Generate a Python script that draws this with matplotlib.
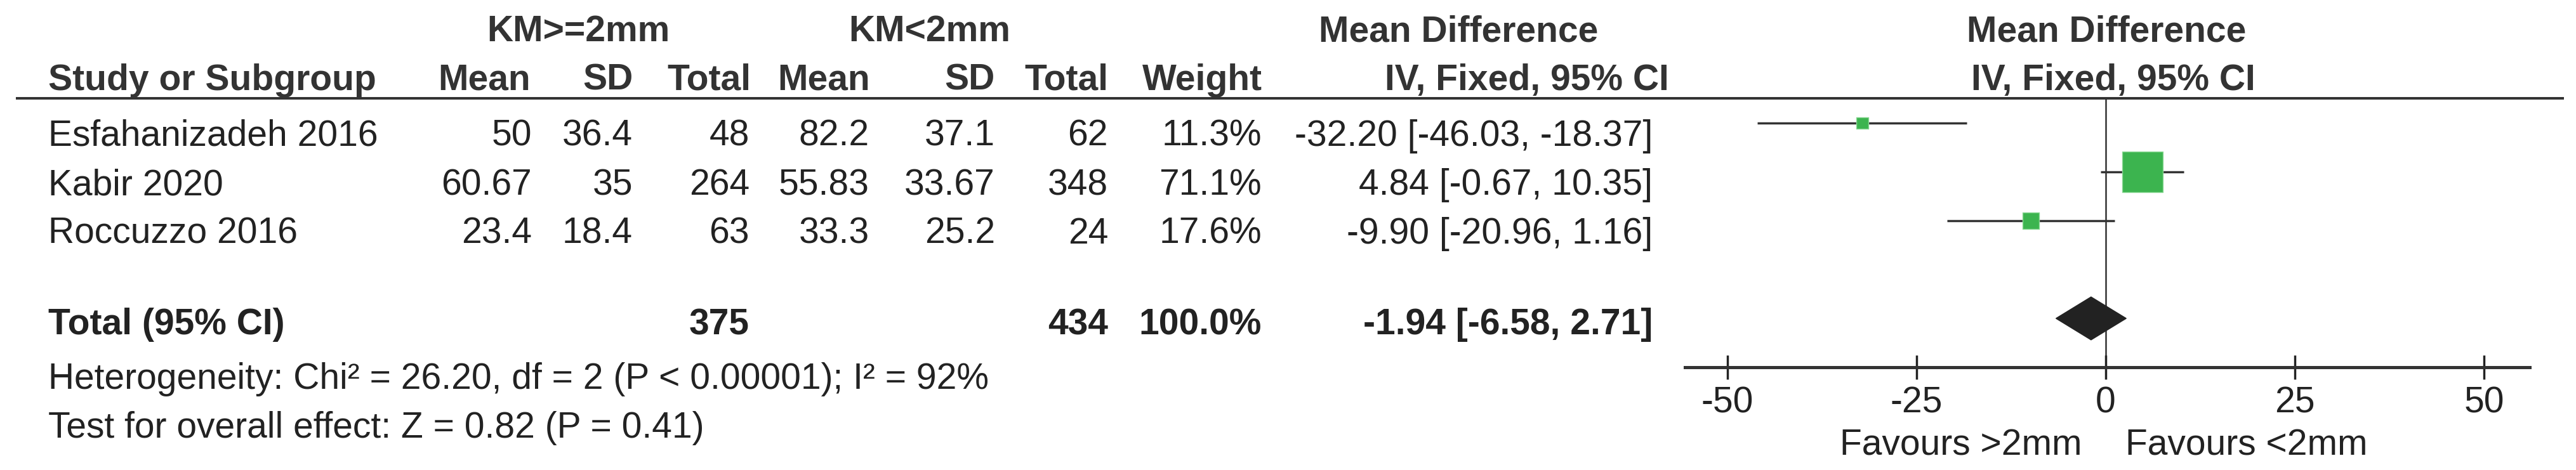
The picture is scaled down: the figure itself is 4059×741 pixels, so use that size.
import matplotlib
matplotlib.use('Agg')
import matplotlib.pyplot as plt

plt.rcParams['font.family'] = ['Liberation Sans', 'DejaVu Sans']
plt.rcParams['axes.unicode_minus'] = False

# data
studies = ['Esfahanizadeh 2016', 'Kabir 2020', 'Roccuzzo 2016']
mean_ge2 = [50, 60.67, 23.4]
sd_ge2 = [36.4, 35, 18.4]
n_ge2 = [48, 264, 63]
mean_lt2 = [82.2, 55.83, 33.3]
sd_lt2 = [37.1, 33.67, 25.2]
n_lt2 = [62, 348, 24]
weights = [11.3, 71.1, 17.6]
md = [-32.20, 4.84, -9.90]
ci_lo = [-46.03, -0.67, -20.96]
ci_hi = [-18.37, 10.35, 1.16]

total_n_ge2 = 375
total_n_lt2 = 434
total_md = -1.94
total_lo = -6.58
total_hi = 2.71
het_text = 'Heterogeneity: Chi² = 26.20, df = 2 (P < 0.00001); I² = 92%'
effect_text = 'Test for overall effect: Z = 0.82 (P = 0.41)'
xticks = [-50, -25, 0, 25, 50]

W, H = 4059, 741
FS = 41
TXT = '#222222'
HDR = '#333333'
LINE = '#333333'
GREEN = '#3cb44f'

fig = plt.figure(figsize=(W / 100, H / 100), dpi=100)

# table area in pixel coordinates
ax_t = fig.add_axes([0, 0, 1, 1])
ax_t.set_xlim(0, W)
ax_t.set_ylim(H, 0)
ax_t.axis('off')


def txt(x, y, s, ha='left', bold=False, color=TXT):
    ax_t.text(x, y, s, ha=ha, va='baseline', fontsize=FS,
              fontweight='bold' if bold else 'normal', color=color)


# headers
txt(911, 65, 'KM>=2mm', 'center', True, HDR)
txt(1465, 65, 'KM<2mm', 'center', True, HDR)
txt(2298, 65, 'Mean Difference', 'center', True, HDR)
txt(3319, 65, 'Mean Difference', 'center', True, HDR)

txt(76, 142, 'Study or Subgroup', 'left', True, HDR)
for x, s in [(836, 'Mean'), (998, 'SD'), (1183, 'Total'), (1371, 'Mean'),
             (1568, 'SD'), (1746, 'Total'), (1989, 'Weight'),
             (2630, 'IV, Fixed, 95% CI')]:
    txt(x, 142, s, 'right', True, HDR)
txt(3330, 142, 'IV, Fixed, 95% CI', 'center', True, HDR)

ax_t.plot([25, 4040], [155, 155], color=LINE, lw=2.9, solid_capstyle='butt')

# study rows
for i, name in enumerate(studies):
    y = 230 + 77 * i
    txt(76, y, name)
    txt(838, y, f'{mean_ge2[i]:g}', 'right')
    txt(997, y, f'{sd_ge2[i]:g}', 'right')
    txt(1181, y, f'{n_ge2[i]}', 'right')
    txt(1370, y, f'{mean_lt2[i]:g}', 'right')
    txt(1568, y, f'{sd_lt2[i]:g}', 'right')
    txt(1746, y, f'{n_lt2[i]}', 'right')
    txt(1988, y, f'{weights[i]:.1f}%', 'right')
    txt(2604, y, f'{md[i]:.2f} [{ci_lo[i]:.2f}, {ci_hi[i]:.2f}]', 'right')

# total row
txt(76, 527, 'Total (95% CI)', 'left', True)
txt(1181, 527, f'{total_n_ge2}', 'right', True)
txt(1746, 527, f'{total_n_lt2}', 'right', True)
txt(1988, 527, f'{sum(weights):.1f}%', 'right', True)
txt(2604, 527, f'{total_md:.2f} [{total_lo:.2f}, {total_hi:.2f}]', 'right', True)
txt(76, 613, het_text)
txt(76, 690, effect_text)

txt(3280, 718, 'Favours >2mm', 'right')
txt(3349, 718, 'Favours <2mm', 'left')

# forest plot
zero_px, ppu = 3318, 11.92
xmin, xmax = -55.6, 56
left_px = zero_px + xmin * ppu
right_px = zero_px + xmax * ppu
ax_f = fig.add_axes([left_px / W, (H - 579) / H, (right_px - left_px) / W, (579 - 155) / H])
ax_f.set_xlim(xmin, xmax)
ax_f.set_ylim(5.0, -0.506)
ax_f.patch.set_alpha(0)
for sp in ['top', 'left', 'right']:
    ax_f.spines[sp].set_visible(False)
ax_f.spines['bottom'].set_linewidth(3.6)
ax_f.spines['bottom'].set_color(LINE)
ax_f.set_yticks([])
ax_f.set_xticks(xticks)
ax_f.set_xticklabels([str(t) for t in xticks])
ax_f.tick_params(axis='x', direction='inout', length=27, width=2.5, pad=8,
                 labelsize=FS, colors=TXT)

rows = list(range(len(studies)))
ax_f.axvline(0, color=LINE, lw=1.8, zorder=1)
ax_f.hlines(rows, ci_lo, ci_hi, color=LINE, lw=2.5, zorder=2)
sizes = [(3.68 * w ** 0.67 * 0.72) ** 2 for w in weights]
ax_f.scatter(md, rows, s=sizes, marker='s', color=GREEN, edgecolors='#8ad894',
             linewidths=1, zorder=3)
ty = 4
ax_f.fill([total_lo, total_md, total_hi, total_md],
          [ty, ty - 0.44, ty, ty + 0.44], color='#222222', zorder=3)

fig.savefig('out.png', dpi=100, facecolor='white')
